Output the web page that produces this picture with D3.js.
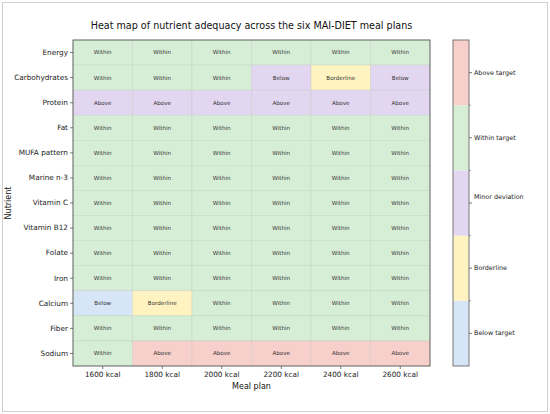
<!DOCTYPE html>
<html>
<head>
<meta charset="utf-8">
<script src="https://cdn.jsdelivr.net/npm/d3@7"></script>
<style>
  body { margin: 0; background: #fff; }
  svg, svg text { font-family: "DejaVu Sans", sans-serif; }
  .tick text { fill: #222; }
</style>
</head>
<body>
<div class="heatMap"></div>
<script>
// values
var nutrients = ["Energy", "Carbohydrates", "Protein", "Fat", "MUFA pattern", "Marine n-3",
                 "Vitamin C", "Vitamin B12", "Folate", "Iron", "Calcium", "Fiber", "Sodium"];
var plans = ["1600 kcal", "1800 kcal", "2000 kcal", "2200 kcal", "2400 kcal", "2600 kcal"];

// status code per cell: 0 below, 1 borderline, 2 minor deviation, 3 within, 4 above
var statusRows = [
  [3, 3, 3, 3, 3, 3],
  [3, 3, 3, 2, 1, 2],
  [2, 2, 2, 2, 2, 2],
  [3, 3, 3, 3, 3, 3],
  [3, 3, 3, 3, 3, 3],
  [3, 3, 3, 3, 3, 3],
  [3, 3, 3, 3, 3, 3],
  [3, 3, 3, 3, 3, 3],
  [3, 3, 3, 3, 3, 3],
  [3, 3, 3, 3, 3, 3],
  [0, 1, 3, 3, 3, 3],
  [3, 3, 3, 3, 3, 3],
  [3, 4, 4, 4, 4, 4]
];
var cellLabels = [
  ["Within", "Within", "Within", "Within", "Within", "Within"],
  ["Within", "Within", "Within", "Below", "Borderline", "Below"],
  ["Above", "Above", "Above", "Above", "Above", "Above"],
  ["Within", "Within", "Within", "Within", "Within", "Within"],
  ["Within", "Within", "Within", "Within", "Within", "Within"],
  ["Within", "Within", "Within", "Within", "Within", "Within"],
  ["Within", "Within", "Within", "Within", "Within", "Within"],
  ["Within", "Within", "Within", "Within", "Within", "Within"],
  ["Within", "Within", "Within", "Within", "Within", "Within"],
  ["Within", "Within", "Within", "Within", "Within", "Within"],
  ["Below", "Borderline", "Within", "Within", "Within", "Within"],
  ["Within", "Within", "Within", "Within", "Within", "Within"],
  ["Within", "Above", "Above", "Above", "Above", "Above"]
];
var statusCodes = [0, 1, 2, 3, 4];
var statusNames = ["Below target", "Borderline", "Minor deviation", "Within target", "Above target"];

var colors = ["#d6e6f6", "#fef3c1", "#e3d6f1", "#d7eed6", "#f8d0cb"];

var width = 550, height = 414;
var plotL = 73, plotR = 430, plotT = 40, plotB = 366;
var font = "DejaVu Sans, sans-serif";

var svg = d3.select(".heatMap")
            .append("svg")
            .attr("width", width)
            .attr("height", height);

// figure frame
svg.append("rect")
   .attr("x", 2.5).attr("y", 2.5)
   .attr("width", 545).attr("height", 409)
   .attr("fill", "none").attr("stroke", "#cfcfcf").attr("stroke-width", 1);

var x = d3.scaleBand().domain(plans).range([plotL, plotR]);
var y = d3.scaleBand().domain(nutrients).range([plotT, plotB]);
var color = d3.scaleOrdinal().domain(statusCodes).range(colors);

var cells = [];
nutrients.forEach(function(n, i) {
  plans.forEach(function(p, j) {
    cells.push({ nutrient: n, plan: p, status: statusRows[i][j], label: cellLabels[i][j] });
  });
});

var grid = svg.append("g");

grid.selectAll("rect")
    .data(cells)
    .enter()
    .append("rect")
    .attr("x", function(d) { return x(d.plan); })
    .attr("y", function(d) { return y(d.nutrient); })
    .attr("width", x.bandwidth())
    .attr("height", y.bandwidth())
    .attr("fill", function(d) { return color(d.status); })
    .attr("stroke", "#b9c4b8")
    .attr("stroke-opacity", 0.45)
    .attr("stroke-width", 0.6);

grid.selectAll("text")
    .data(cells)
    .enter()
    .append("text")
    .text(function(d) { return d.label; })
    .attr("x", function(d) { return x(d.plan) + x.bandwidth() / 2; })
    .attr("y", function(d) { return y(d.nutrient) + y.bandwidth() / 2; })
    .attr("dy", "0.35em")
    .attr("text-anchor", "middle")
    .attr("font-size", "5.6px")
    .attr("fill", "#333");

// axes frame
svg.append("rect")
   .attr("x", plotL).attr("y", plotT)
   .attr("width", plotR - plotL).attr("height", plotB - plotT)
   .attr("fill", "none").attr("stroke", "#5a5a5a").attr("stroke-width", 0.9);

var yAxis = svg.append("g")
               .attr("transform", "translate(" + plotL + ",0)")
               .call(d3.axisLeft(y).tickSize(3).tickPadding(2))
               .attr("font-family", font);
yAxis.select(".domain").remove();
yAxis.selectAll("text").attr("font-size", "7.3px");
yAxis.selectAll("line").attr("stroke", "#444").attr("stroke-width", 0.7);

var xAxis = svg.append("g")
               .attr("transform", "translate(0," + plotB + ")")
               .call(d3.axisBottom(x).tickSize(3).tickPadding(2.5))
               .attr("font-family", font);
xAxis.select(".domain").remove();
xAxis.selectAll("text").attr("font-size", "7.3px");
xAxis.selectAll("line").attr("stroke", "#444").attr("stroke-width", 0.7);

svg.append("text")
   .text("Heat map of nutrient adequacy across the six MAI-DIET meal plans")
   .attr("x", (plotL + plotR) / 2).attr("y", 28.5)
   .attr("text-anchor", "middle")
   .attr("font-size", "9.6px")
   .attr("fill", "#111");

svg.append("text")
   .text("Meal plan")
   .attr("x", (plotL + plotR) / 2).attr("y", 389)
   .attr("text-anchor", "middle")
   .attr("font-size", "8px")
   .attr("fill", "#111");

svg.append("text")
   .text("Nutrient")
   .attr("transform", "translate(11," + (plotT + plotB) / 2 + ") rotate(-90)")
   .attr("text-anchor", "middle")
   .attr("font-size", "8px")
   .attr("fill", "#111");

// colour bar
var cbLeft = 453, cbRight = 469;
var cb = d3.scaleBand().domain(statusCodes.slice().reverse()).range([plotT, plotB]);

var bar = svg.append("g");
bar.selectAll("rect")
   .data(statusCodes)
   .enter()
   .append("rect")
   .attr("x", cbLeft)
   .attr("y", function(d) { return cb(d); })
   .attr("width", cbRight - cbLeft)
   .attr("height", cb.bandwidth())
   .attr("fill", function(d) { return color(d); });

bar.append("rect")
   .attr("x", cbLeft).attr("y", plotT)
   .attr("width", cbRight - cbLeft).attr("height", plotB - plotT)
   .attr("fill", "none").attr("stroke", "#6a6a6a").attr("stroke-width", 0.9);

// small marks at the segment boundaries
bar.selectAll("line.minor")
   .data(statusCodes.slice(0, 4))
   .enter()
   .append("line")
   .attr("class", "minor")
   .attr("x1", cbRight).attr("x2", cbRight + 1.8)
   .attr("y1", function(d) { return cb(d); })
   .attr("y2", function(d) { return cb(d); })
   .attr("stroke", "#444").attr("stroke-width", 0.6);

var cbAxis = svg.append("g")
                .attr("transform", "translate(" + cbRight + ",0)")
                .call(d3.axisRight(cb).tickSize(3).tickPadding(2)
                        .tickFormat(function(d) { return statusNames[d]; }))
                .attr("font-family", font);
cbAxis.select(".domain").remove();
cbAxis.selectAll("line").attr("stroke", "#444").attr("stroke-width", 0.7);
cbAxis.selectAll("text")
      .attr("font-size", "6.4px")
      .attr("dy", function(d) { return d === 2 ? "-0.6em" : "0.32em"; });
</script>
</body>
</html>
